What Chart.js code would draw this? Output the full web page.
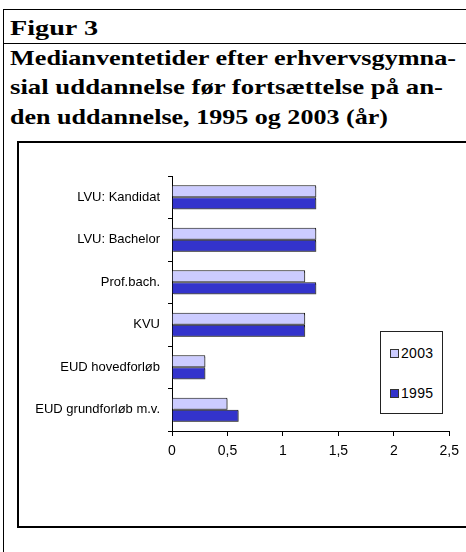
<!DOCTYPE html>
<html><head><meta charset="utf-8">
<script src="https://cdn.jsdelivr.net/npm/chart.js@4/dist/chart.umd.min.js"></script>
<style>
html,body{margin:0;padding:0;background:#fff;width:466px;height:552px;overflow:hidden;}
.abs{position:absolute;}
.t{position:absolute;left:10px;font-family:"Liberation Serif",serif;font-weight:bold;font-size:22px;line-height:26px;white-space:nowrap;color:#000;transform-origin:0 0;}
#lg{position:absolute;left:380px;top:331px;width:61px;height:81px;border:1px solid #222;background:#fff;font-family:"Liberation Sans",Arial,sans-serif;font-size:14px;}
.li{position:absolute;left:9px;height:16px;line-height:16px;letter-spacing:0.3px;}
.sw{display:inline-block;width:7px;height:7px;border:1px solid #333;vertical-align:0px;margin-right:2px;}
</style></head>
<body>
<div class="abs" style="left:3px;top:9px;width:1px;height:543px;background:#000"></div>
<div class="abs" style="left:3px;top:9px;width:463px;height:1px;background:#000"></div>
<div class="abs" style="left:3px;top:43px;width:463px;height:1px;background:#000"></div>
<div class="abs" style="left:17px;top:141px;width:449px;height:2px;background:#000"></div>
<div class="abs" style="left:17px;top:141px;width:2px;height:387px;background:#000"></div>
<div class="abs" style="left:17px;top:526px;width:449px;height:2px;background:#000"></div>
<div class="t" data-w="88" style="top:15px">Figur 3</div>
<div class="t" data-w="446" style="top:45px">Medianventetider efter erhvervsgymna-</div>
<div class="t" data-w="433" style="top:74px">sial uddannelse før fortsættelse på an-</div>
<div class="t" data-w="378" style="top:104px">den uddannelse, 1995 og 2003 (år)</div>
<canvas id="c" width="466" height="552" style="position:absolute;left:0;top:0;"></canvas>
<div id="lg"></div>
<script>
const categories = ["LVU: Kandidat","LVU: Bachelor","Prof.bach.","KVU","EUD hovedforløb","EUD grundforløb m.v."];
const series2003 = [1.3,1.3,1.2,1.2,0.3,0.5];
const series1995 = [1.3,1.3,1.3,1.2,0.3,0.6];
const seriesNames = ["2003","1995"];
const xTicks = [0,0.5,1,1.5,2,2.5];

document.querySelectorAll('.t').forEach(el=>{
  const w = el.getBoundingClientRect().width;
  const tw = +el.dataset.w;
  el.style.transform = 'scaleX(' + (tw/w) + ')';
});

const colors = ["#CCCCFF","#3333CC"];
const shadowPlugin = {
  id:'barShadow',
  beforeDatasetsDraw(chart){
    const ctx=chart.ctx; ctx.save();
    ctx.shadowColor='rgba(90,90,90,0.8)'; ctx.shadowOffsetX=1.5; ctx.shadowOffsetY=1.5; ctx.shadowBlur=0;
  },
  afterDatasetsDraw(chart){ chart.ctx.restore(); }
};
const chart = new Chart(document.getElementById('c'), {
  type:'bar',
  data:{
    labels:categories,
    datasets:[
      {label:seriesNames[0],data:series2003,backgroundColor:colors[0],borderColor:"#111",borderWidth:1,barPercentage:1,categoryPercentage:0.565},
      {label:seriesNames[1],data:series1995,backgroundColor:colors[1],borderColor:"#111",borderWidth:1,barPercentage:1,categoryPercentage:0.565}
    ]
  },
  plugins:[shadowPlugin],
  options:{
    indexAxis:'y',
    responsive:false,
    animation:false,
    devicePixelRatio:1,
    layout:{padding:{left:0,right:12,top:176,bottom:81}},
    plugins:{legend:{display:false},tooltip:{enabled:false},title:{display:false}},
    scales:{
      x:{
        min:0,max:2.5,
        afterBuildTicks:s=>{s.ticks=xTicks.map(v=>({value:v}));},
        afterFit:s=>{s.height=40;},
        ticks:{color:"#000",font:{family:"Liberation Sans",size:14},padding:7,
          callback:v=>String(v).replace('.',',')},
        grid:{drawOnChartArea:false,tickLength:5,color:"#000",tickColor:"#000"},
        border:{color:"#000",width:1}
      },
      y:{
        afterFit:s=>{s.width=172;},
        ticks:{color:"#000",font:{family:"Liberation Sans",size:13},padding:8},
        grid:{drawOnChartArea:false,tickLength:4,color:"#000",tickColor:"#000",offset:true},
        border:{color:"#000",width:1}
      }
    }
  }
});

const lg = document.getElementById('lg');
seriesNames.forEach((n,i)=>{
  const d = document.createElement('div');
  d.className='li';
  d.style.top = (i===0?13:53)+'px';
  d.innerHTML = '<span class="sw" style="background:'+colors[i]+'"></span>'+n;
  lg.appendChild(d);
});
</script>
</body></html>
